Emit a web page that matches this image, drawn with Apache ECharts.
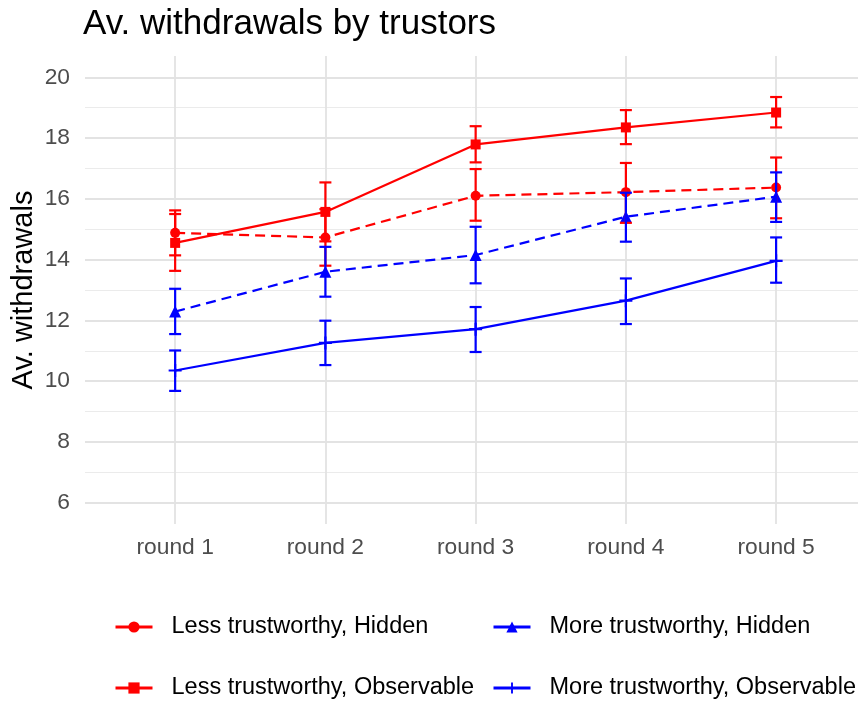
<!DOCTYPE html>
<html>
<head>
<meta charset="utf-8">
<script src="https://cdn.jsdelivr.net/npm/echarts@6/dist/echarts.min.js"></script>
<style>html,body{margin:0;padding:0;background:#fff;}#c{width:858px;height:705px;}</style>
</head>
<body>
<div id="c"></div>
<script>
// ---- data ----
const rounds = ['round 1', 'round 2', 'round 3', 'round 4', 'round 5'];
const yTicks = [6, 8, 10, 12, 14, 16, 18, 20];
const yMinor = [7, 9, 11, 13, 15, 17, 19];

const lessHidden    = [14.88, 14.73, 16.10, 16.22, 16.37];
const lessHiddenLo  = [14.14, 13.80, 15.28, 15.21, 15.36];
const lessHiddenHi  = [15.62, 15.66, 16.98, 17.18, 17.36];

const lessObs       = [14.55, 15.57, 17.79, 18.35, 18.84];
const lessObsLo     = [13.63, 14.60, 17.20, 17.80, 18.35];
const lessObsHi     = [15.50, 16.54, 18.39, 18.92, 19.35];

const moreHidden    = [12.29, 13.60, 14.15, 15.41, 16.07];
const moreHiddenLo  = [11.55, 12.78, 13.22, 14.59, 15.24];
const moreHiddenHi  = [13.04, 14.42, 15.08, 16.20, 16.87];

const moreObs       = [10.35, 11.26, 11.71, 12.65, 13.96];
const moreObsLo     = [9.68, 10.53, 10.96, 11.88, 13.24];
const moreObsHi     = [11.01, 11.99, 12.44, 13.38, 14.73];

const names = ['Less trustworthy, Hidden', 'Less trustworthy, Observable', 'More trustworthy, Hidden', 'More trustworthy, Observable'];

// ---- build ----
const FONT = 'Liberation Sans';
const RED = '#FF0000', BLUE = '#0000FF';
const plusPath = 'path://M-6,-1H6V1H-6Z M-1,-6H1V6H-1Z';

function pts(arr) { return arr.map((v, i) => [i + 1, v]); }
function bars(lo, hi) { return lo.map((v, i) => [i + 1, v, hi[i]]); }

function lineSeries(name, vals, color, dashed, symbol, size) {
  return {
    name: name, type: 'line', data: pts(vals), z: 3,
    lineStyle: { color: color, width: 2.2, type: dashed ? [10, 6] : 'solid' },
    itemStyle: { color: color },
    symbol: symbol, symbolSize: size, showSymbol: true,
  };
}
function errSeries(name, lo, hi, color) {
  return {
    name: name, type: 'custom', data: bars(lo, hi), z: 4,
    encode: { x: 0, y: [1, 2] },
    renderItem: function (params, api) {
      const x = api.value(0);
      const a = api.coord([x, api.value(1)]);
      const b = api.coord([x, api.value(2)]);
      const w = 6;
      const st = { stroke: color, lineWidth: 2.2 };
      return {
        type: 'group',
        children: [
          { type: 'line', shape: { x1: a[0], y1: a[1], x2: b[0], y2: b[1] }, style: st },
          { type: 'line', shape: { x1: a[0] - w, y1: a[1], x2: a[0] + w, y2: a[1] }, style: st },
          { type: 'line', shape: { x1: b[0] - w, y1: b[1], x2: b[0] + w, y2: b[1] }, style: st },
        ]
      };
    }
  };
}

const gridLines = [];
yTicks.forEach(v => gridLines.push({ yAxis: v, lineStyle: { color: '#e3e3e3', width: 1.8, type: 'solid' } }));
yMinor.forEach(v => gridLines.push({ yAxis: v, lineStyle: { color: '#ebebeb', width: 1, type: 'solid' } }));
rounds.forEach((r, i) => gridLines.push({ xAxis: i + 1, lineStyle: { color: '#e3e3e3', width: 1.8, type: 'solid' } }));

function legendAt(name, left, top) {
  return {
    data: [name], left: left, top: top, padding: 0, orient: 'horizontal',
    itemWidth: 37, itemHeight: 14,
    lineStyle: { type: 'solid', width: 3 },
    textStyle: { fontFamily: FONT, fontSize: 23.5, color: '#000', padding: [0, 0, 0, 14] },
    selectedMode: false,
  };
}

const chart = echarts.init(document.getElementById('c'), null, { renderer: 'canvas' });
chart.setOption({
  animation: false,
  backgroundColor: '#fff',
  title: {
    text: 'Av. withdrawals by trustors', left: 83, top: 7, padding: 0,
    textStyle: { fontFamily: FONT, fontSize: 35, fontWeight: 'normal', color: '#000' }
  },
  grid: { left: 85, right: 0, top: 56, bottom: 181, containLabel: false, outerBoundsMode: 'none' },
  xAxis: {
    type: 'value', min: 0.4, max: 5.545,
    axisLine: { show: false }, axisTick: { show: false }, splitLine: { show: false },
    axisLabel: {
      customValues: [1, 2, 3, 4, 5],
      formatter: v => rounds[Math.round(v) - 1] || '',
      fontFamily: FONT, fontSize: 22.8, color: '#4d4d4d', margin: 12
    }
  },
  yAxis: {
    type: 'value', min: 5.3, max: 20.7,
    name: 'Av. withdrawals', nameLocation: 'middle', nameRotate: 90, nameGap: 47,
    nameMoveOverlap: false,
    nameTextStyle: { fontFamily: FONT, fontSize: 29, color: '#000' },
    axisLine: { show: false }, axisTick: { show: false }, splitLine: { show: false },
    axisLabel: {
      customValues: yTicks,
      fontFamily: FONT, fontSize: 22.8, color: '#4d4d4d', margin: 15
    }
  },
  legend: [
    legendAt(names[0], 114, 615),
    legendAt(names[2], 492, 615),
    legendAt(names[1], 114, 676),
    legendAt(names[3], 492, 676),
  ],
  series: [
    { name: 'grid', type: 'line', data: [], z: 0, silent: true,
      markLine: { silent: true, z: 0, symbol: ['none', 'none'], label: { show: false }, animation: false, data: gridLines } },
    lineSeries(names[0], lessHidden, RED, true, 'circle', 10),
    lineSeries(names[1], lessObs, RED, false, 'rect', 10),
    lineSeries(names[2], moreHidden, BLUE, true, 'triangle', 12),
    lineSeries(names[3], moreObs, BLUE, false, plusPath, 13),
    errSeries(names[0], lessHiddenLo, lessHiddenHi, RED),
    errSeries(names[1], lessObsLo, lessObsHi, RED),
    errSeries(names[2], moreHiddenLo, moreHiddenHi, BLUE),
    errSeries(names[3], moreObsLo, moreObsHi, BLUE),
  ]
});
</script>
</body>
</html>
